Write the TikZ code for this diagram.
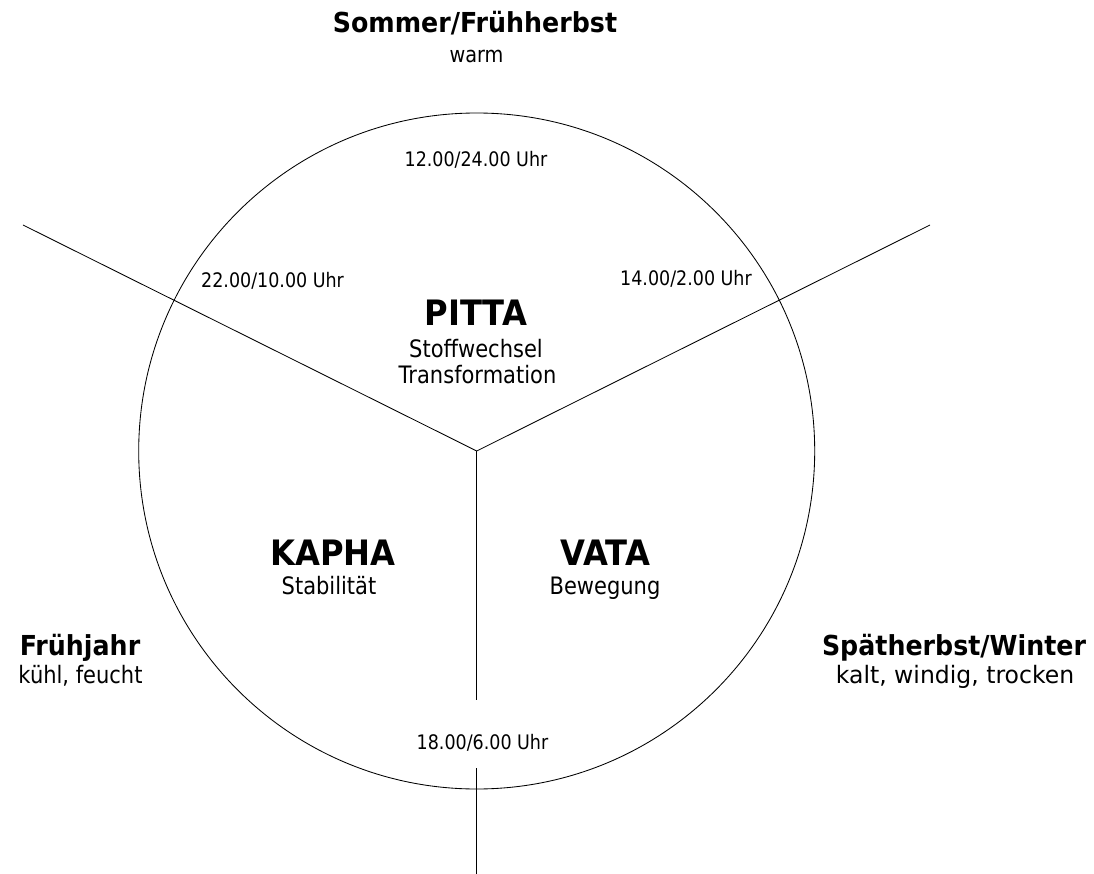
\documentclass[tikz,border=0pt]{standalone}
\usepackage{fontspec}
\setmainfont{DejaVu Sans}
\newfontfamily\regf[FakeStretch=0.875]{DejaVu Sans}
\newfontfamily\widef[FakeStretch=0.98]{DejaVu Sans}
\newfontfamily\bldf[FakeStretch=0.92]{DejaVu Sans}
\tikzset{
  lbl/.style={inner sep=0pt, anchor=base},
  timelbl/.style={lbl, font=\regf\fontsize{20}{24}\selectfont},
  sublbl/.style={lbl, font=\regf\fontsize{24}{28}\selectfont},
  doshalbl/.style={lbl, font=\bldf\bfseries\fontsize{35}{40}\selectfont},
  seasonlbl/.style={lbl, font=\bldf\bfseries\fontsize{27.5}{32}\selectfont},
  thinline/.style={line width=0.85pt, black}
}
\begin{document}
\begin{tikzpicture}[x=1pt,y=-1pt]
\useasboundingbox (0,0) rectangle (1094,874);
% geometry
\coordinate (c) at (476.7,451);
\coordinate (l) at (23,225);
\coordinate (r) at (930,225);
\coordinate (b1) at (476.7,700);
\coordinate (b2) at (476.7,768);
\coordinate (b3) at (476.7,874);
\draw[thinline] (c) circle[radius=338];
\draw[thinline] (l) -- (c) -- (r);
\draw[thinline] (c) -- (b1);
\draw[thinline] (b2) -- (b3);
% seasons
\node[seasonlbl] (sommer) at (475,33) {Sommer/Frühherbst};
\node[sublbl, font=\regf\fontsize{22}{26}\selectfont] (warm) at (476.5,63) {warm};
\node[seasonlbl] (fruehjahr) at (80,655) {Frühjahr};
\node[sublbl] (kuehl) at (80.5,683) {kühl, feucht};
\node[seasonlbl] (winter) at (954,655) {Spätherbst/Winter};
\node[sublbl, font=\widef\fontsize{24}{28}\selectfont] (kalt) at (955,683) {kalt, windig, trocken};
% times
\node[timelbl] (t12) at (476,167) {12.00/24.00 Uhr};
\node[timelbl, anchor=base west] (t22) at (201,288) {22.00/10.00 Uhr};
\node[timelbl, anchor=base east] (t14) at (752,286) {14.00/2.00 Uhr};
\node[timelbl] (t18) at (482.5,749) {18.00/6.00 Uhr};
% doshas
\node[doshalbl] (pitta) at (476,325) {PITTA};
\node[sublbl] (stoff) at (476,357) {Stoffwechsel};
\node[sublbl] (trans) at (477.5,383) {Transformation};
\node[doshalbl] (kapha) at (333,565) {KAPHA};
\node[sublbl] (stab) at (329,594) {Stabilität};
\node[doshalbl] (vata) at (605.5,565) {VATA};
\node[sublbl] (beweg) at (605,594) {Bewegung};
\end{tikzpicture}
\end{document}
